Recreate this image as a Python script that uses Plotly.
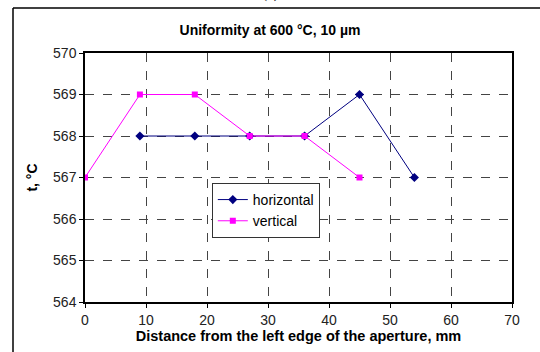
import plotly.graph_objects as go

# Data
horiz_x = [9, 18, 27, 36, 45, 54]
horiz_y = [568, 568, 568, 568, 569, 567]
vert_x = [0, 9, 18, 27, 36, 45]
vert_y = [567, 569, 569, 568, 568, 567]
x_ticks = [0, 10, 20, 30, 40, 50, 60, 70]
y_ticks = [564, 565, 566, 567, 568, 569, 570]

FONT = "Liberation Sans, Arial, sans-serif"

fig = go.Figure()
fig.add_trace(go.Scatter(
    x=horiz_x, y=horiz_y, name="horizontal", mode="lines+markers",
    line=dict(color="#000080", width=1),
    marker=dict(symbol="diamond", size=7, color="#000080"),
))
fig.add_trace(go.Scatter(
    x=vert_x, y=vert_y, name="vertical", mode="lines+markers",
    line=dict(color="#FF00FF", width=1),
    marker=dict(symbol="square", size=6, color="#FF00FF"),
))

axis_common = dict(
    showline=True, linecolor="black", linewidth=1.5, mirror=True,
    showgrid=True, gridcolor="#444444", gridwidth=1, griddash="dash",
    ticks="outside", ticklen=4, tickcolor="black",
    tickfont=dict(family=FONT, size=14, color="#222222"),
    zeroline=False, automargin=False,
)

fig.update_xaxes(
    range=[0, 70], tickvals=x_ticks,
    title=dict(text="<b>Distance from the left edge of the aperture, mm</b>",
               font=dict(family=FONT, size=14.5, color="black"), standoff=2),
    **axis_common,
)
fig.update_yaxes(
    range=[564, 570], tickvals=y_ticks,
    title=dict(text="<b>t, °C</b>", font=dict(family=FONT, size=14, color="black"), standoff=12),
    **axis_common,
)

fx0 = (13 - 85) / 427
fy1 = (302 - 8) / 249
fig.update_layout(
    width=540, height=352,
    margin=dict(l=85, r=28, t=53, b=50),
    paper_bgcolor="white", plot_bgcolor="white",
    font=dict(family=FONT, size=14, color="black"),
    title=dict(text="<b>Uniformity at 600 °C, 10 µm</b>", x=270 / 540, xanchor="center",
               y=1 - 30 / 352, yanchor="middle", font=dict(family=FONT, size=14, color="black")),
    legend=dict(x=0.297, y=0.478, xanchor="left", yanchor="top",
                bgcolor="white", bordercolor="#333333", borderwidth=1,
                font=dict(family=FONT, size=14, color="black"),
                itemwidth=30, tracegroupgap=0),
    showlegend=True,
    shapes=[
        dict(type="line", xref="paper", yref="paper", x0=fx0, x1=1.12, y0=fy1, y1=fy1,
             line=dict(color="black", width=1.5)),
        dict(type="line", xref="paper", yref="paper", x0=fx0, x1=fx0, y0=-0.25, y1=fy1,
             line=dict(color="black", width=1.5)),
    ],
    annotations=[dict(text="(a)", xref="paper", yref="paper",
                      x=(270 - 85) / 427, y=(302 - 4) / 249, xanchor="center", yanchor="bottom",
                      showarrow=False, font=dict(family="Liberation Serif, serif", size=15, color="black"))],
)

fig.write_html("out.html", config={"displayModeBar": False},
               post_script="document.body.style.margin='0';document.body.style.overflow='hidden';")
